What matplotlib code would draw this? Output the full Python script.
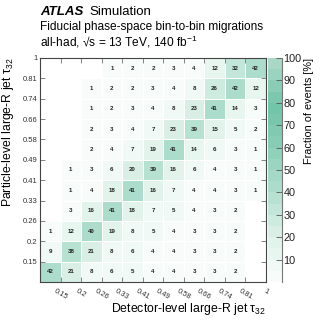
import numpy as np
import matplotlib
matplotlib.use("Agg")
import matplotlib.pyplot as plt
from matplotlib.colors import LinearSegmentedColormap

plt.rcParams['font.family'] = ['Liberation Sans', 'DejaVu Sans']
plt.rcParams['mathtext.fontset'] = 'custom'
plt.rcParams['mathtext.rm'] = 'Liberation Sans'
plt.rcParams['mathtext.it'] = 'Liberation Sans'
plt.rcParams['mathtext.sf'] = 'Liberation Sans'

# bin edges of tau32 (equal-width display)
edge_labels = ['0.15', '0.2', '0.26', '0.33', '0.41', '0.49', '0.58', '0.66', '0.74', '0.81', '1']

# migration matrix [%], rows = particle-level bins (bottom -> top), cols = detector-level bins
# None = empty cell
row_0 = [42, 21, 8, 6, 5, 4, 4, 3, 3, 2, None]
row_1 = [9, 38, 21, 8, 6, 4, 4, 3, 3, 2, None]
row_2 = [1, 12, 40, 19, 8, 5, 4, 3, 3, 2, None]
row_3 = [None, 3, 16, 41, 18, 7, 5, 4, 3, 2, None]
row_4 = [None, 1, 4, 18, 41, 16, 7, 4, 4, 3, 1]
row_5 = [None, 1, 3, 6, 20, 39, 16, 6, 4, 3, 1]
row_6 = [None, None, 2, 4, 7, 19, 41, 14, 6, 3, 1]
row_7 = [None, None, 2, 3, 4, 7, 23, 39, 15, 5, 2]
row_8 = [None, None, 1, 2, 3, 4, 8, 23, 41, 14, 3]
row_9 = [None, None, 1, 2, 2, 3, 4, 8, 26, 42, 12]
row_10 = [None, None, None, 1, 2, 2, 3, 4, 12, 32, 42]

rows = [row_0, row_1, row_2, row_3, row_4, row_5, row_6, row_7, row_8, row_9, row_10]
mat = np.array([[np.nan if v is None else v for v in r] for r in rows], dtype=float)
mat = np.ma.masked_invalid(mat)

cmap = LinearSegmentedColormap.from_list(
    'atlas_teal',
    [(0.0, '#f7fcfa'), (0.2, '#dbf0e7'), (0.4, '#b0dfce'), (0.6, '#8ccfb8'),
     (0.8, '#6fc4a8'), (1.0, '#a9d8c7')], N=20)
cmap.set_bad('white')

fig = plt.figure(figsize=(3.32, 3.22), dpi=100)
ax = fig.add_axes([0.1205, 0.1242, 0.6807, 0.6957])
cax = fig.add_axes([0.8072, 0.1242, 0.042, 0.6957])

n = len(edge_labels)
mesh = ax.pcolormesh(np.arange(n + 1), np.arange(n + 1), mat, cmap=cmap, vmin=0, vmax=100,
                     edgecolor='white', linewidth=0.6)

for i in range(n):
    for j in range(n):
        if mat.mask[i, j]:
            continue
        ax.text(j + 0.5, i + 0.5, '%d' % mat[i, j], ha='center', va='center',
                fontsize=4.4, fontweight='bold', color='#222222')

ax.set_xlim(0, n)
ax.set_ylim(0, n)
ax.set_xticks(np.arange(1, n + 1))
ax.set_yticks(np.arange(1, n + 1))
ax.set_xticklabels(edge_labels, rotation=-30, ha='center', fontsize=5.5)
ax.set_yticklabels(edge_labels, fontsize=5.5)
ax.tick_params(direction='in', length=3.5, width=0.5, top=True, right=True, pad=2, colors='#555555')
ax.tick_params(axis='x', pad=4)
for lab in ax.get_xticklabels() + ax.get_yticklabels():
    lab.set_color('#333333')
for s in ax.spines.values():
    s.set_linewidth(0.8)
    s.set_color('#444444')

ax.set_xlabel(r'Detector-level large-R jet $\tau_{32}$', fontsize=8.8, ha='right', va='top')
ax.xaxis.set_label_coords(1.0, -0.085)
ax.set_ylabel(r'Particle-level large-R jet $\tau_{32}$', fontsize=8.8, ha='right', va='center')
ax.yaxis.set_label_coords(-0.142, 1.0)

cb = fig.colorbar(mesh, cax=cax)
cb.set_ticks([10, 20, 30, 40, 50, 60, 70, 80, 90, 100])
cb.ax.tick_params(direction='in', length=4, width=0.6, labelsize=7.8, pad=1, colors='#555555')
for lab in cb.ax.get_yticklabels():
    lab.set_color('#222222')
cb.outline.set_visible(False)
cb.ax.spines['right'].set_visible(True)
cb.ax.spines['right'].set_color('#777777')
cb.ax.spines['right'].set_linewidth(0.8)
cb.set_label('Fraction of events [%]', fontsize=7.8, y=1.0, ha='right', labelpad=2)

fig.text(0.1205, 0.962, 'ATLAS', fontsize=9.5, fontweight='bold', style='italic', va='center')
fig.text(0.27, 0.962, 'Simulation', fontsize=9.5, va='center')
fig.text(0.1205, 0.916, 'Fiducial phase-space bin-to-bin migrations', fontsize=8.6, va='center')
fig.text(0.1205, 0.870, 'all-had, \u221As = 13 TeV, 140 fb$^{-1}$', fontsize=8.6, va='center')

fig.savefig('out.png', dpi=100)
